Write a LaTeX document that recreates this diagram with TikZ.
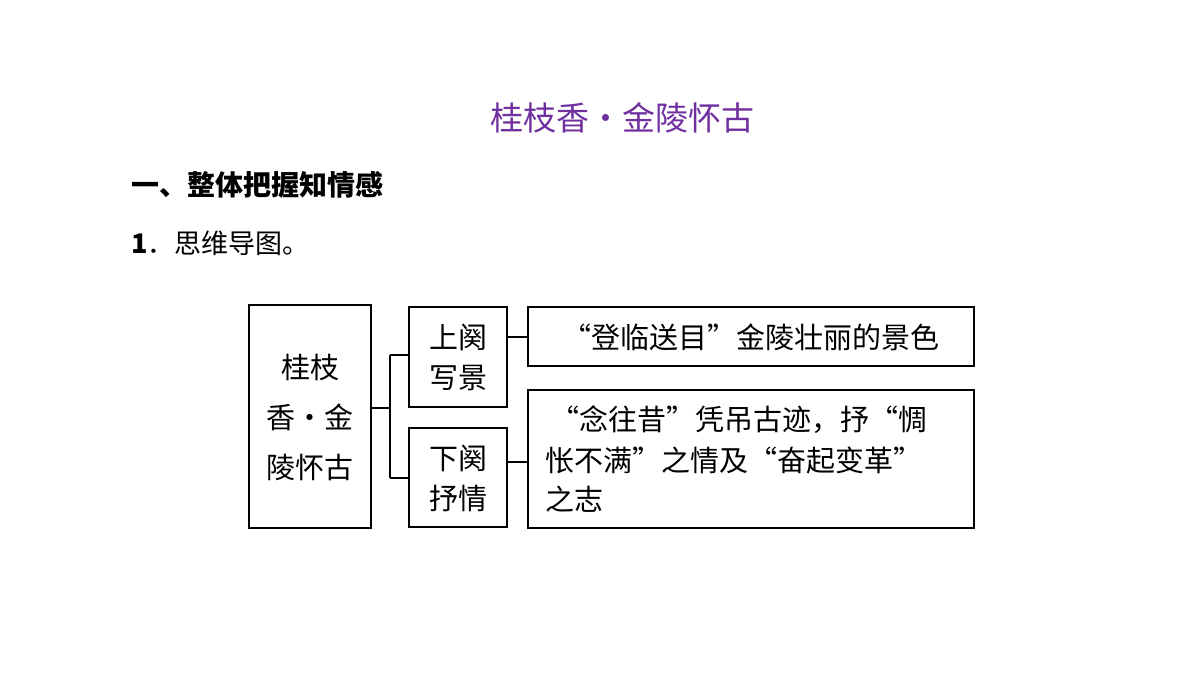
\documentclass[tikz,border=0pt]{standalone}
\usepackage{fontspec}
\setmainfont{Liberation Serif}
\newfontfamily\cjk{Noto Sans CJK SC}
\begin{document}
\begin{tikzpicture}[x=1pt,y=-1pt,
 bx/.style={draw,line width=1.5pt,inner sep=0},
 tx/.style={font=\cjk\fontsize{29}{40}\selectfont,inner sep=0,align=center},
 ln/.style={line width=1.2pt}]
\useasboundingbox (0,0) rectangle (1200,675);
\node[font=\cjk\fontsize{33}{40}\selectfont,text={rgb,255:red,112;green,48;blue,160}] (t) at (622,118) {桂枝香·金陵怀古};
\node[font=\cjk\bfseries\fontsize{28}{32}\selectfont,anchor=west] (h) at (128,185) {一、整体把握知情感};
\node[font=\cjk\fontsize{27}{32}\selectfont,anchor=west] (n) at (128,243) {\textbf{1}．思维导图。};
\draw[bx] (249,305) rectangle (371,528);
\node[tx] (a1) at (310,367) {桂枝};
\node[tx] (a2) at (310,417) {香•金};
\node[tx] (a3) at (310,467) {陵怀古};
\draw[bx] (409,307) rectangle (507,407);
\node[tx] (b) at (458,357) {上阕\\写景};
\draw[bx] (409,428) rectangle (507,527);
\node[tx] (c) at (458,478) {下阕\\抒情};
\draw[bx] (528,307) rectangle (974,366);
\node[tx] (d) at (751,337) {“登临送目”金陵壮丽的景色};
\draw[bx] (528,390) rectangle (974,528);
\node[tx,anchor=west] (e1) at (545,420) {\hspace{5pt}“念往昔”凭吊古迹，抒“惆};
\node[tx,anchor=west] (e2) at (545,460) {怅不满”之情及“奋起变革”};
\node[tx,anchor=west] (e3) at (545,499) {之志};
\draw[ln] (371,408) -- (390,408) (390,355) -- (390,478) (390,355) -- (409,355) (390,478) -- (409,478);
\draw[ln] (507,337) -- (528,337) (507,462) -- (528,462);
\end{tikzpicture}
\end{document}
